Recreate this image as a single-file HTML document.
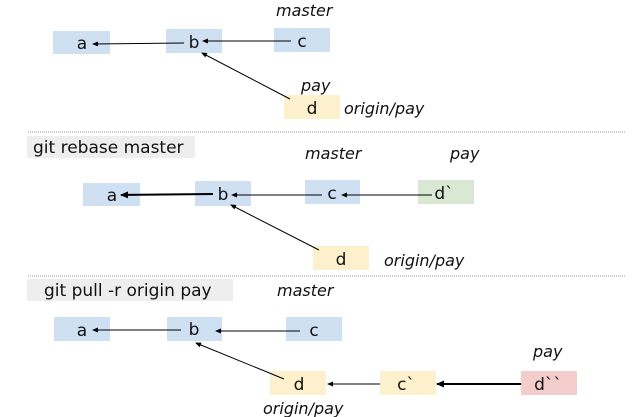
<!DOCTYPE html>
<html><head><meta charset="utf-8"><style>
html,body{margin:0;padding:0;background:#fff;}
svg{display:block;}
text{font-family:"DejaVu Sans","Liberation Sans",sans-serif;}
.n{font-size:17px;fill:#111;text-anchor:middle;}
.l{font-size:16px;font-style:italic;fill:#111;}
.h{font-size:17px;fill:#111;}
line{stroke-opacity:1;}
</style></head><body>
<svg width="640" height="417" viewBox="0 0 640 417">
<defs>
<marker id="ar" markerWidth="6" markerHeight="6" refX="5" refY="3" orient="auto" markerUnits="userSpaceOnUse"><path d="M0,0.5 L6,3 L0,5.5 Z" fill="#000"/></marker>
<marker id="ar2" markerWidth="8" markerHeight="8" refX="7" refY="4" orient="auto" markerUnits="userSpaceOnUse"><path d="M0,0.5 L8,4 L0,7.5 Z" fill="#000"/></marker>
</defs>
<!-- section 1 -->
<rect x="53" y="31" width="57" height="23" fill="#cfe0f3"/>
<rect x="166" y="29" width="56" height="24" fill="#cfe0f3"/>
<rect x="274" y="28" width="56" height="24" fill="#cfe0f3"/>
<rect x="284" y="95" width="56" height="24" fill="#fdf0cc"/>
<text class="l" x="276" y="16">master</text>
<text class="l" x="301" y="91">pay</text>
<text class="l" x="344" y="114">origin/pay</text>
<text class="n" x="82" y="49">a</text>
<text class="n" x="194" y="48">b</text>
<text class="n" x="302" y="47">c</text>
<text class="n" x="312" y="114">d</text>
<line x1="184" y1="43" x2="93" y2="44" stroke="#000" stroke-width="1" marker-end="url(#ar)"/>
<line x1="291" y1="41" x2="203" y2="41" stroke="#000" stroke-width="1" marker-end="url(#ar)"/>
<line x1="290" y1="99" x2="202" y2="53" stroke="#000" stroke-width="1" marker-end="url(#ar)"/>
<line x1="28" y1="132" x2="625" y2="132" stroke="#999" stroke-width="1" stroke-dasharray="1,1"/>
<!-- section 2 -->
<rect x="27" y="136" width="168" height="22" fill="#eeeeee"/>
<text class="h" x="33" y="153">git rebase master</text>
<text class="l" x="305" y="159">master</text>
<text class="l" x="450" y="159">pay</text>
<rect x="83" y="183" width="57" height="23" fill="#cfe0f3"/>
<rect x="195" y="181" width="56" height="25" fill="#cfe0f3"/>
<rect x="305" y="180" width="55" height="24" fill="#cfe0f3"/>
<rect x="418" y="180" width="56" height="24" fill="#d8e8d2"/>
<rect x="313" y="246" width="56" height="24" fill="#fdf0cc"/>
<text class="n" x="112" y="201">a</text>
<text class="n" x="223" y="200">b</text>
<text class="n" x="332" y="199">c</text>
<text class="n" x="444" y="199">d`</text>
<text class="n" x="341" y="265">d</text>
<text class="l" x="384" y="266">origin/pay</text>
<line x1="213" y1="194" x2="121" y2="195" stroke="#000" stroke-width="2" marker-end="url(#ar2)"/>
<line x1="322" y1="195" x2="232" y2="195" stroke="#000" stroke-width="1" marker-end="url(#ar)"/>
<line x1="432" y1="195" x2="342" y2="195" stroke="#000" stroke-width="1" marker-end="url(#ar)"/>
<line x1="319" y1="250" x2="231" y2="205" stroke="#000" stroke-width="1" marker-end="url(#ar)"/>
<line x1="28" y1="276" x2="625" y2="276" stroke="#999" stroke-width="1" stroke-dasharray="1,1"/>
<!-- section 3 -->
<rect x="27" y="279" width="206" height="22" fill="#eeeeee"/>
<text class="h" x="44" y="296">git pull -r origin pay</text>
<text class="l" x="277" y="296">master</text>
<rect x="54" y="317" width="56" height="24" fill="#cfe0f3"/>
<rect x="167" y="317" width="55" height="24" fill="#cfe0f3"/>
<rect x="286" y="317" width="56" height="24" fill="#cfe0f3"/>
<text class="n" x="82" y="336">a</text>
<text class="n" x="194" y="335">b</text>
<text class="n" x="314" y="336">c</text>
<line x1="181" y1="330" x2="93" y2="330" stroke="#000" stroke-width="1" marker-end="url(#ar)"/>
<line x1="300" y1="331" x2="216" y2="331" stroke="#000" stroke-width="1" marker-end="url(#ar)"/>
<rect x="270" y="371" width="56" height="24" fill="#fdf0cc"/>
<rect x="380" y="371" width="56" height="24" fill="#fdf0cc"/>
<rect x="521" y="371" width="56" height="24" fill="#f3cccc"/>
<text class="n" x="299" y="390">d</text>
<text class="n" x="406" y="390">c`</text>
<text class="n" x="548" y="390">d``</text>
<text class="l" x="533" y="357">pay</text>
<text class="l" x="263" y="414">origin/pay</text>
<line x1="380" y1="384" x2="328" y2="384" stroke="#000" stroke-width="1" marker-end="url(#ar)"/>
<line x1="521" y1="384" x2="437" y2="384" stroke="#000" stroke-width="2" marker-end="url(#ar2)"/>
<line x1="284" y1="379" x2="196" y2="343" stroke="#000" stroke-width="1" marker-end="url(#ar)"/>
</svg>
</body></html>
